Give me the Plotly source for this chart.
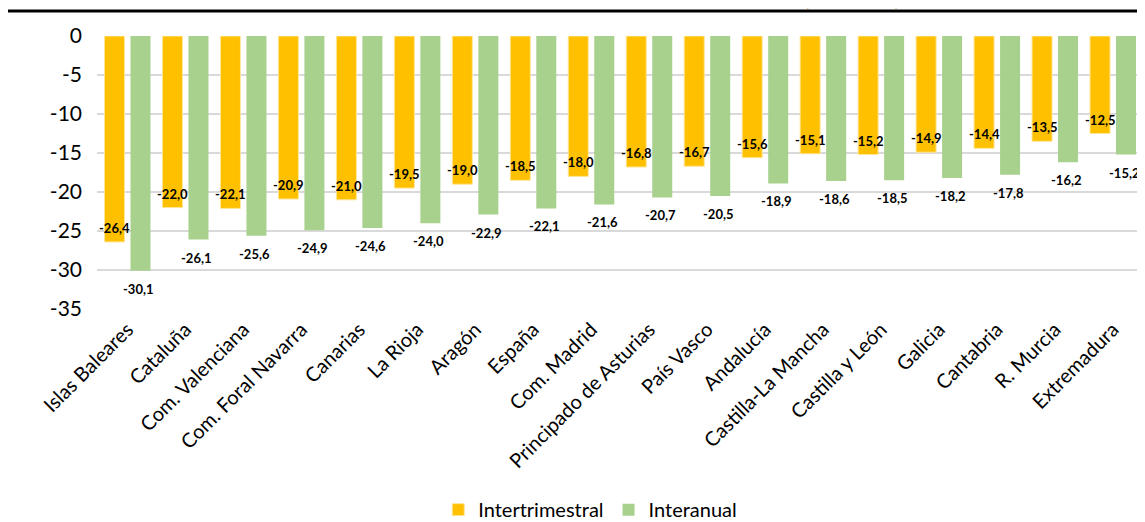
import plotly.graph_objects as go

categories = ["Islas Baleares", "Cataluña", "Com. Valenciana", "Com. Foral Navarra", "Canarias",
              "La Rioja", "Aragón", "España", "Com. Madrid", "Principado de Asturias", "País Vasco",
              "Andalucía", "Castilla-La Mancha", "Castilla y León", "Galicia", "Cantabria",
              "R. Murcia", "Extremadura"]
intertrimestral = [-26.4, -22.0, -22.1, -20.9, -21.0, -19.5, -19.0, -18.5, -18.0, -16.8, -16.7,
                   -15.6, -15.1, -15.2, -14.9, -14.4, -13.5, -12.5]
interanual = [-30.1, -26.1, -25.6, -24.9, -24.6, -24.0, -22.9, -22.1, -21.6, -20.7, -20.5,
              -18.9, -18.6, -18.5, -18.2, -17.8, -16.2, -15.2]
y_ticks = [0, -5, -10, -15, -20, -25, -30, -35]
title_text = "ESTIMACIONES DE CRECIMIENTO DEL PIB POR CCAA (IIT-2020)."

FONT = "Lato"
ORANGE = "#FFC000"
GREEN = "#A9D18E"


def fmt(v):
    return f"{v:.1f}".replace(".", ",")


fig = go.Figure()
fig.add_trace(go.Bar(x=categories, y=intertrimestral, name="Intertrimestral",
                     marker=dict(color=ORANGE, line=dict(color="#FFE699", width=1))))
fig.add_trace(go.Bar(x=categories, y=interanual, name="Interanual",
                     marker=dict(color=GREEN, line=dict(color=GREEN, width=0))))

annotations = []
for c, v in zip(categories, intertrimestral):
    annotations.append(dict(x=c, y=v, xref="x", yref="y", text=fmt(v), showarrow=False,
                            xshift=-13, yshift=14, yanchor="middle",
                            font=dict(family=FONT, size=13, color="#000000", weight="bold")))
for c, v in zip(categories, interanual):
    annotations.append(dict(x=c, y=v, xref="x", yref="y", text=fmt(v), showarrow=False,
                            xshift=11, yshift=-18, yanchor="middle",
                            font=dict(family=FONT, size=13, color="#000000", weight="bold")))

# title, mostly above the top edge as in the reference
annotations.append(dict(x=0.459, y=1 + 24 / 273, xref="paper", yref="paper", text="<b>" + title_text + "</b>",
                        showarrow=False, xanchor="center", yanchor="bottom",
                        font=dict(family=FONT, size=22, color="#C55A11")))

fig.update_layout(
    width=1137, height=514,
    margin=dict(l=89, r=3, t=28, b=213, autoexpand=False),
    paper_bgcolor="white", plot_bgcolor="white",
    barmode="group", bargap=0.103, bargroupgap=0.23,
    font=dict(family=FONT, color="#000000"),
    annotations=annotations,
    shapes=[dict(type="line", xref="paper", yref="paper", x0=-0.0852, x1=1.01,
                 y0=1 + 25 / 273, y1=1 + 25 / 273, line=dict(color="black", width=3))],
    legend=dict(orientation="h", x=0.472, xanchor="center", y=-0.735, yanchor="middle",
                font=dict(family=FONT, size=20, color="#000000"), itemwidth=30,
                traceorder="normal"),
    xaxis=dict(tickangle=-45, tickfont=dict(family=FONT, size=20, color="#000000"),
               showline=False, showgrid=False, ticks="", automargin=False,
               ticklabelstandoff=4),
    yaxis=dict(range=[-35, 0], tickvals=y_ticks, ticktext=[str(t) for t in y_ticks],
               tickfont=dict(family=FONT, size=21, color="#000000"),
               showgrid=True, gridcolor="#D9D9D9", gridwidth=1.5, zeroline=False,
               ticklabelstandoff=14, automargin=False),
)

fig.write_html("out.html", config={"displayModeBar": False})
